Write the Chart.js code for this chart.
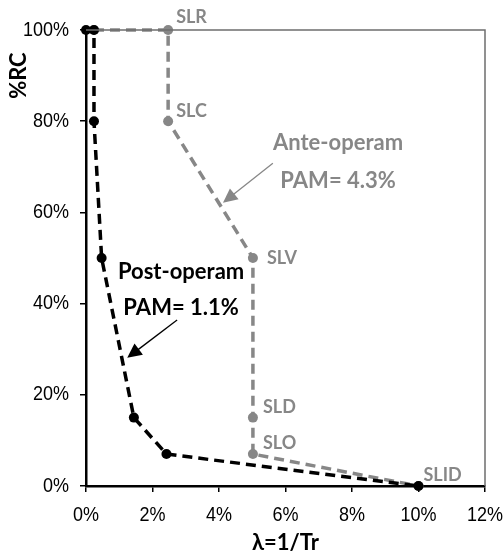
<!DOCTYPE html>
<html>
<head>
<meta charset="utf-8">
<script src="https://cdn.jsdelivr.net/npm/chart.js@4/dist/chart.umd.min.js"></script>
<style>
  html, body { margin: 0; padding: 0; background: #fff; }
  #wrap { width: 504px; height: 555px; }
</style>
</head>
<body>
<div id="wrap"><canvas id="c" width="504" height="555"></canvas></div>
<script>
// valori (lambda = 1/Tr in %, %RC)
const postX = [0, 0.24, 0.24, 0.47, 1.44, 2.42, 10];
const postY = [100, 100, 80, 50, 15, 7, 0];
const anteX = [0.24, 2.47, 2.47, 5.02, 5.02, 5.02, 10];
const anteY = [100, 100, 80, 50, 15, 7, 0];
const anteLabels = ['', 'SLR', 'SLC', 'SLV', 'SLD', 'SLO', 'SLID'];
const xTicks = [0, 2, 4, 6, 8, 10, 12];
const yTicks = [0, 20, 40, 60, 80, 100];

const GRAY = '#878787';
const tickFont = "'Liberation Sans', Arial, sans-serif";
const boldFont = "Lato, 'Open Sans', sans-serif";

// spostamenti delle etichette rispetto al punto (px)
const labelOffset = {
    SLR: [8, -13], SLC: [8, -10], SLV: [14, 0], SLD: [10, -10],
    SLO: [10, -11], SLID: [5, -11]
};

const toPts = (xs, ys) => xs.map((x, i) => ({ x: x, y: ys[i] }));

function arrow(ctx, x1, y1, x2, y2, color, head) {
    const a = Math.atan2(y2 - y1, x2 - x1);
    ctx.save();
    ctx.strokeStyle = color;
    ctx.fillStyle = color;
    ctx.lineWidth = 1.3;
    ctx.beginPath();
    ctx.moveTo(x1, y1);
    ctx.lineTo(x2 - Math.cos(a) * head * 0.8, y2 - Math.sin(a) * head * 0.8);
    ctx.stroke();
    ctx.beginPath();
    ctx.moveTo(x2, y2);
    ctx.lineTo(x2 - head * Math.cos(a - 0.45), y2 - head * Math.sin(a - 0.45));
    ctx.lineTo(x2 - head * Math.cos(a + 0.45), y2 - head * Math.sin(a + 0.45));
    ctx.closePath();
    ctx.fill();
    ctx.restore();
}

// testo un po' stretto, come Arial Narrow
function narrowText(ctx, txt, x, y, align) {
    ctx.save();
    ctx.translate(x, y);
    ctx.scale(0.9, 1);
    ctx.textAlign = align;
    ctx.fillText(txt, 0, 0);
    ctx.restore();
}

const extras = {
    id: 'extras',
    afterDraw(chart) {
        const ctx = chart.ctx;
        const xs = chart.scales.x, ys = chart.scales.y;
        const area = chart.chartArea;
        const px = v => xs.getPixelForValue(v);
        const py = v => ys.getPixelForValue(v);

        // bordo superiore e destro
        ctx.save();
        ctx.strokeStyle = '#6e6e6e';
        ctx.lineWidth = 1.5;
        ctx.beginPath();
        ctx.moveTo(area.left, area.top);
        ctx.lineTo(area.right, area.top);
        ctx.lineTo(area.right, area.bottom);
        ctx.stroke();
        ctx.restore();

        // etichette dei tick
        ctx.save();
        ctx.font = '20px ' + tickFont;
        ctx.fillStyle = '#000';
        ctx.textBaseline = 'middle';
        yTicks.forEach(v => narrowText(ctx, v + '%', 69, py(v), 'right'));
        xTicks.forEach(v => narrowText(ctx, v + '%', px(v), 515, 'center'));
        ctx.restore();

        // etichette dei punti ante-operam
        ctx.save();
        ctx.font = 'bold 18px ' + boldFont;
        ctx.fillStyle = GRAY;
        ctx.textBaseline = 'middle';
        ctx.textAlign = 'left';
        anteLabels.forEach((lab, i) => {
            if (!lab) return;
            const o = labelOffset[lab];
            ctx.fillText(lab, px(anteX[i]) + o[0], py(anteY[i]) + o[1]);
        });

        // annotazioni
        ctx.textAlign = 'center';
        ctx.font = 'bold 22px ' + boldFont;
        ctx.fillStyle = GRAY;
        ctx.fillText('Ante-operam', px(7.58), py(75.2));
        ctx.fillText('PAM= 4.3%', px(7.58), py(66.9));
        ctx.fillStyle = '#000';
        ctx.fillText('Post-operam', px(2.86), py(46.9));
        ctx.fillText('PAM= 1.1%', px(2.86), py(39.0));

        // titoli degli assi
        ctx.font = 'bold 22px ' + boldFont;
        ctx.fillStyle = '#000';
        ctx.fillText('\u03bb=1/Tr', (area.left + area.right) / 2, 543);
        ctx.save();
        ctx.translate(19, py(90));
        ctx.rotate(-Math.PI / 2);
        ctx.fillText('%RC', 0, 0);
        ctx.restore();
        ctx.restore();

        arrow(ctx, px(5.62), py(70.8), px(4.12), py(62.1), GRAY, 16);
        arrow(ctx, px(2.74), py(36.4), px(1.24), py(28.1), '#000', 16);
    }
};

new Chart(document.getElementById('c'), {
    type: 'scatter',
    data: {
        datasets: [
            {
                label: 'Post-operam',
                data: toPts(postX, postY),
                showLine: true,
                clip: false,
                borderColor: '#000',
                backgroundColor: '#000',
                borderWidth: 3.5,
                borderDash: [10, 6],
                pointRadius: 5,
                pointBorderWidth: 0
            },
            {
                label: 'Ante-operam',
                data: toPts(anteX, anteY),
                showLine: true,
                clip: false,
                borderColor: GRAY,
                backgroundColor: GRAY,
                borderWidth: 3.5,
                borderDash: [10, 6],
                pointRadius: 5,
                pointBorderWidth: 0
            }
        ]
    },
    options: {
        responsive: false,
        animation: false,
        layout: { padding: { top: 30, right: 19, left: 0, bottom: 0 } },
        plugins: { legend: { display: false }, tooltip: { enabled: false } },
        scales: {
            x: {
                type: 'linear',
                min: 0, max: 12,
                afterBuildTicks: s => { s.ticks = xTicks.map(v => ({ value: v })); },
                afterFit: s => { s.height = 69; },
                grid: { drawOnChartArea: false, color: '#000', lineWidth: 1.5, tickLength: 6 },
                border: { color: '#000', width: 2.5 },
                ticks: { display: false }
            },
            y: {
                type: 'linear',
                min: 0, max: 100,
                afterBuildTicks: s => { s.ticks = yTicks.map(v => ({ value: v })); },
                afterFit: s => { s.width = 86; },
                grid: { drawOnChartArea: false, color: '#000', lineWidth: 1.5, tickLength: 6 },
                border: { color: '#000', width: 2.5 },
                ticks: { display: false }
            }
        }
    },
    plugins: [extras]
});
</script>
</body>
</html>
